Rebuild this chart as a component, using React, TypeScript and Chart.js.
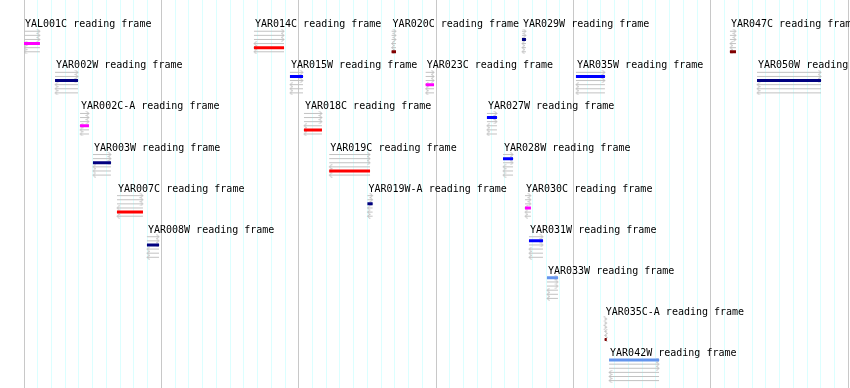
import React, { useEffect, useRef } from 'react';
import { Chart, registerables } from 'chart.js';

Chart.register(...registerables);

// Features (gene reading frames) laid out in lanes
const featureNames = [
  'YAL001C', 'YAR014C', 'YAR020C', 'YAR029W', 'YAR047C',
  'YAR002W', 'YAR015W', 'YAR023C', 'YAR035W', 'YAR050W',
  'YAR002C-A', 'YAR018C', 'YAR027W',
  'YAR003W', 'YAR019C', 'YAR028W',
  'YAR007C', 'YAR019W-A', 'YAR030C',
  'YAR008W', 'YAR031W',
  'YAR033W',
  'YAR035C-A',
  'YAR042W',
];
const featureStarts = [
  0, 16.74, 26.76, 36.25, 51.39,
  2.26, 19.36, 29.24, 40.18, 53.36,
  4.08, 20.38, 33.7,
  5.02, 22.22, 34.87,
  6.77, 25.0, 36.47,
  8.95, 36.76,
  38.07,
  42.27,
  42.59,
];
const featureEnds = [
  1.16, 18.93, 27.08, 36.54, 51.83,
  3.93, 20.31, 29.85, 42.29, 58.02,
  4.73, 21.69, 34.43,
  6.33, 25.19, 35.6,
  8.66, 25.38, 36.9,
  9.83, 37.78,
  38.87,
  42.42,
  46.23,
];
const featureLanes = [
  0, 0, 0, 0, 0,
  1, 1, 1, 1, 1,
  2, 2, 2,
  3, 3, 3,
  4, 4, 4,
  5, 5,
  6,
  7,
  8,
];
// reading frame row 1..6 (1-3 forward, 4-6 reverse)
const featureFrames = [
  4, 5, 6, 3, 6,
  3, 2, 4, 2, 3,
  4, 5, 2,
  3, 5, 2,
  5, 3, 4,
  3, 2,
  1,
  6,
  1,
];
const frameColors = ['#6495ED', '#0000FF', '#000080', '#FF00FF', '#FF0000', '#800000'];
const frameRows = [1, 2, 3, 4, 5, 6];
const labelSuffix = ' reading frame';

const X_MIN = 0;
const X_MAX = 60.13;
const Y_MIN = -5.6;
const Y_MAX = 88.8;
const LANE_SIZE = 10;

const rowY = (lane: number, frame: number) => lane * LANE_SIZE + frame + 1;

function makeChevron(dir: number): HTMLCanvasElement {
  const c = document.createElement('canvas');
  c.width = 7;
  c.height = 5;
  const g = c.getContext('2d')!;
  g.strokeStyle = '#bdbdbd';
  g.lineWidth = 1;
  g.beginPath();
  if (dir > 0) {
    g.moveTo(0.5, 0);
    g.lineTo(3.5, 2.5);
    g.lineTo(0.5, 5);
  } else {
    g.moveTo(6.5, 0);
    g.lineTo(3.5, 2.5);
    g.lineTo(6.5, 5);
  }
  g.stroke();
  return c;
}

const labelPlugin = {
  id: 'featureLabels',
  afterDatasetsDraw(chart: any) {
    const { ctx, scales } = chart;
    const xs = scales.x;
    const ys = scales.y;
    ctx.save();
    ctx.font = '10px "DejaVu Sans Mono", monospace';
    ctx.fillStyle = '#000';
    ctx.textBaseline = 'alphabetic';
    ctx.textAlign = 'left';
    featureNames.forEach((n, i) => {
      const px = xs.getPixelForValue(featureStarts[i]) + 1;
      const py = ys.getPixelForValue(featureLanes[i] * LANE_SIZE) + 4.2;
      ctx.fillText(n + labelSuffix, px, py);
    });
    ctx.restore();
  },
};

export default function App() {
  const ref = useRef<HTMLCanvasElement | null>(null);

  useEffect(() => {
    if (!ref.current) return;

    const grayLines: any[] = [];
    const fwdArrows: any[] = [];
    const revArrows: any[] = [];
    featureNames.forEach((_, i) => {
      frameRows.forEach((f) => {
        const y = rowY(featureLanes[i], f);
        grayLines.push({ x: featureStarts[i], y });
        grayLines.push({ x: featureEnds[i], y });
        grayLines.push({ x: featureEnds[i], y: null });
        if (f <= 3) fwdArrows.push({ x: featureEnds[i], y });
        else revArrows.push({ x: featureStarts[i], y });
      });
    });

    const barSets = frameRows.map((f) => {
      const data: any[] = [];
      featureNames.forEach((_, i) => {
        if (featureFrames[i] !== f) return;
        const y = rowY(featureLanes[i], f);
        data.push({ x: featureStarts[i], y });
        data.push({ x: featureEnds[i], y });
        data.push({ x: featureEnds[i], y: null });
      });
      return {
        label: 'frame ' + f,
        data,
        showLine: true,
        borderColor: frameColors[f - 1],
        backgroundColor: frameColors[f - 1],
        borderWidth: 3,
        borderCapStyle: 'butt',
        pointRadius: 0,
        pointHoverRadius: 0,
        spanGaps: false,
        order: 0,
      };
    });

    const chart = new Chart(ref.current, {
      type: 'scatter',
      data: {
        datasets: [
          ...barSets,
          {
            label: 'forward',
            data: fwdArrows,
            pointStyle: makeChevron(1),
            pointRadius: 1,
            pointHoverRadius: 1,
            showLine: false,
            order: 1,
          },
          {
            label: 'reverse',
            data: revArrows,
            pointStyle: makeChevron(-1),
            pointRadius: 1,
            pointHoverRadius: 1,
            showLine: false,
            order: 1,
          },
          {
            label: 'frames',
            data: grayLines,
            showLine: true,
            borderColor: '#c2c2c2',
            borderWidth: 1,
            pointRadius: 0,
            pointHoverRadius: 0,
            spanGaps: false,
            order: 2,
          },
        ] as any,
      },
      options: {
        animation: false,
        responsive: false,
        maintainAspectRatio: false,
        layout: { autoPadding: false, padding: { left: 24, right: 0, top: 0, bottom: 0 } },
        plugins: {
          legend: { display: false },
          tooltip: { enabled: false },
          title: { display: false },
        },
        events: [],
        scales: {
          x: {
            type: 'linear',
            min: X_MIN,
            max: X_MAX,
            display: true,
            ticks: { display: false, stepSize: 1, includeBounds: false },
            grid: {
              drawTicks: false,
              lineWidth: 1,
              color: (c: any) =>
                c.tick && Math.round(c.tick.value) % 10 === 0 ? '#c8c8c8' : '#dcffff',
            },
            border: { display: false },
          },
          y: {
            type: 'linear',
            min: Y_MIN,
            max: Y_MAX,
            reverse: true,
            display: false,
          },
        },
      } as any,
      plugins: [labelPlugin],
    });

    return () => chart.destroy();
  }, []);

  return (
    <div style={{ position: 'absolute', left: 0, top: 0, width: 850, height: 388, background: '#fff' }}>
      <canvas ref={ref} width={850} height={388} style={{ display: 'block' }} />
    </div>
  );
}
